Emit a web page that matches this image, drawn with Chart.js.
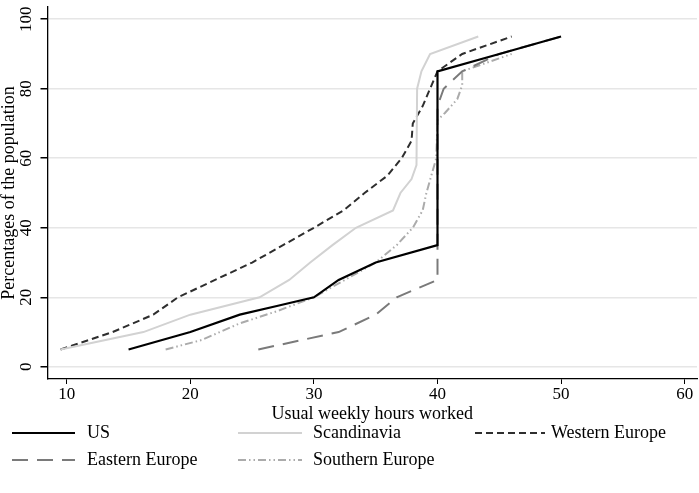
<!DOCTYPE html>
<html>
<head>
<meta charset="utf-8">
<script src="https://cdn.jsdelivr.net/npm/chart.js@4"></script>
<style>
  body { margin: 0; background: #fff; }
  #wrap { width: 699px; height: 493px; }
</style>
</head>
<body>
<div id="wrap"><canvas id="hours"></canvas></div>
<script>
// usual weekly hours (x) at each percentile of the population (y)
const usHours = [15, 20, 24, 27, 30, 32, 35, 40, 40, 45, 50];
const usPct   = [5, 10, 15, 17.5, 20, 25, 30, 35, 85, 90, 95];

const scanHours = [9.5, 16.2, 20, 25.6, 28, 29.7, 31.5, 33.4, 36.4, 37, 37.9, 38.3, 38.35, 38.7, 39.4, 43.3];
const scanPct   = [5, 10, 15, 20, 25, 30, 35, 40, 45, 50, 54, 58, 80, 85, 90, 95];

const westHours = [9.5, 13.7, 17, 19, 22, 25, 27.5, 30, 32.4, 34.1, 35.95, 37.1, 37.9, 38, 38.8, 39.4, 40, 42, 46];
const westPct   = [5, 10, 15, 20, 25, 30, 35, 40, 45, 50, 55, 60, 65, 70, 75, 80, 85, 90, 95];

const eastHours = [25.5, 32, 35, 36.7, 40, 40, 40.5, 42, 45, 50];
const eastPct   = [5, 10, 15, 20, 25, 75, 80, 85, 90, 95];

const southHours = [18, 20.9, 24, 27, 30, 32.5, 35, 36.7, 38, 38.8, 39.1, 39.5, 39.9, 40, 40.6, 41.6, 42, 42, 46];
const southPct   = [5, 7.7, 12.5, 16, 20, 25, 30, 35, 40, 45, 50, 55, 60, 71, 73, 77, 81, 85, 90];

const xTicks = [10, 20, 30, 40, 50, 60];
const yTicks = [0, 20, 40, 60, 80, 100];

const serif = "'Liberation Serif', 'Times New Roman', serif";

function pts(xs, ys) {
    return xs.map((x, i) => ({ x: x, y: ys[i] }));
}

// y tick labels read bottom-to-top, chart.js can't rotate those, so draw them here
const yLabels = {
    id: 'yLabels',
    afterDraw(chart) {
        const ctx = chart.ctx;
        const y = chart.scales.y;
        ctx.save();
        ctx.font = "17px " + serif;
        ctx.fillStyle = '#000';
        ctx.textAlign = 'center';
        ctx.textBaseline = 'middle';
        yTicks.forEach(v => {
            ctx.save();
            ctx.translate(27, y.getPixelForValue(v));
            ctx.rotate(-Math.PI / 2);
            ctx.fillText(String(v), 0, 0);
            ctx.restore();
        });
        ctx.restore();
    }
};

// legend in a 3 column grid like the original
const gridLegend = {
    id: 'gridLegend',
    afterDraw(chart) {
        const ctx = chart.ctx;
        const cols = [[12, 75, 87], [238, 302, 313], [475, 545, 551]];
        const rows = [433, 460];
        ctx.save();
        ctx.font = "18px " + serif;
        ctx.textBaseline = 'middle';
        chart.data.datasets.forEach((ds, i) => {
            const c = cols[i % 3];
            const r = rows[Math.floor(i / 3)];
            ctx.strokeStyle = ds.borderColor;
            ctx.lineWidth = ds.borderWidth;
            ctx.setLineDash(ds.borderDash || []);
            ctx.beginPath();
            ctx.moveTo(c[0], r);
            ctx.lineTo(c[1], r);
            ctx.stroke();
            ctx.fillStyle = '#000';
            ctx.fillText(ds.label, c[2], r);
        });
        ctx.restore();
    }
};

new Chart("hours", {
    type: "line",
    data: {
        datasets: [{
            label: "US",
            data: pts(usHours, usPct),
            borderColor: "#000000",
            borderWidth: 2.2
        }, {
            label: "Scandinavia",
            data: pts(scanHours, scanPct),
            borderColor: "#d2d2d2",
            borderWidth: 2
        }, {
            label: "Western Europe",
            data: pts(westHours, westPct),
            borderColor: "#2e2e2e",
            borderWidth: 2,
            borderDash: [7, 4]
        }, {
            label: "Eastern Europe",
            data: pts(eastHours, eastPct),
            borderColor: "#7a7a7a",
            borderWidth: 2,
            borderDash: [16, 9]
        }, {
            label: "Southern Europe",
            data: pts(southHours, southPct),
            borderColor: "#ababab",
            borderWidth: 2,
            borderDash: [8, 3, 1.5, 3, 1.5, 3]
        }]
    },
    options: {
        responsive: true,
        maintainAspectRatio: false,
        animation: false,
        elements: {
            point: { radius: 0 },
            line: { tension: 0, fill: false }
        },
        layout: {
            padding: { top: 7, right: 2, bottom: 64, left: 0 }
        },
        plugins: {
            legend: { display: false },
            tooltip: { enabled: false }
        },
        scales: {
            x: {
                type: 'linear',
                min: 8.44,
                max: 61,
                afterBuildTicks: s => { s.ticks = xTicks.map(v => ({ value: v })); },
                afterFit: s => { s.height = 50; },
                grid: { drawOnChartArea: false, drawTicks: true, tickLength: 5, color: '#000' },
                border: { color: '#000', width: 1.3 },
                ticks: {
                    color: '#000',
                    padding: 0,
                    maxRotation: 0,
                    font: { family: serif, size: 17 }
                },
                title: {
                    display: true,
                    text: 'Usual weekly hours worked',
                    color: '#000',
                    padding: { top: 0, bottom: 4 },
                    font: { family: serif, size: 18 }
                }
            },
            y: {
                min: -3.5,
                max: 103.5,
                afterBuildTicks: s => { s.ticks = yTicks.map(v => ({ value: v })); },
                afterFit: s => { s.width = 47.5; },
                grid: { color: '#e6e6e6', lineWidth: 1.5, tickColor: '#000', tickLength: 7 },
                border: { color: '#000', width: 1.3 },
                ticks: { display: false },
                title: {
                    display: true,
                    text: 'Percentages of the population',
                    color: '#000',
                    padding: 0,
                    font: { family: serif, size: 18, lineHeight: 1 }
                }
            }
        }
    },
    plugins: [yLabels, gridLegend]
});
</script>
</body>
</html>
